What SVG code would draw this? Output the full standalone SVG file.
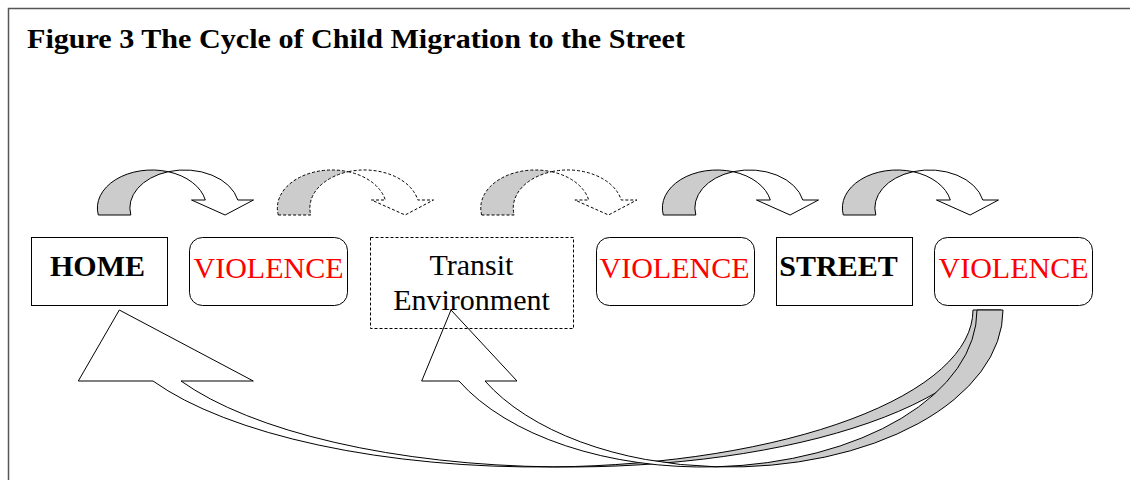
<svg xmlns="http://www.w3.org/2000/svg" xmlns:xlink="http://www.w3.org/1999/xlink" width="1130" height="480" viewBox="0 0 1130 480">
<style>
  .frame{fill:#ffffff;stroke:#555555;stroke-width:1.5}
  .box{fill:none;stroke:#000000;stroke-width:1}
  .dbox{fill:none;stroke:#000000;stroke-width:1;stroke-dasharray:3,2}
  .lbl{font-family:"Liberation Serif","Times New Roman",serif;font-size:30px;text-anchor:middle}
  .bold{font-weight:bold;fill:#000000}
  .red{fill:#ff0000}
  .blk{fill:#000000}
  .arr{stroke:#000000;stroke-width:1;stroke-linejoin:miter}
  .dash{stroke-dasharray:3,2}
  .shade{fill:#cccccc}
  .front{fill:#ffffff}
  .title{font-family:"Liberation Serif","Times New Roman",serif;font-size:27px;font-weight:bold;fill:#000000}
</style>
<defs>
  <g id="curvedDown">
    <path class="shade" d="M0,0 A54.6,38 0 0 1 69.85,-43.3 A54.6,38 0 0 0 32.5,0 Z"/>
    <path class="front" d="M69.85,-43.3 A54.6,38 0 0 1 107,-15 L93.2,-15 L126.8,0 L155.2,-15 L139.5,-15 A54.6,38 0 0 0 69.85,-43.3 Z"/>
  </g>
</defs>
<rect class="frame" x="8.5" y="8.5" width="1140" height="490"/>
<text class="title" x="27" y="48" textLength="658" lengthAdjust="spacingAndGlyphs">Figure 3 The Cycle of Child Migration to the Street</text>
<g id="connectors">
  <use xlink:href="#curvedDown" href="#curvedDown" class="arr" transform="translate(98.3,215)"/>
  <use xlink:href="#curvedDown" href="#curvedDown" class="arr dash" transform="translate(278.3,215)"/>
  <use xlink:href="#curvedDown" href="#curvedDown" class="arr dash" transform="translate(481.7,215)"/>
  <use xlink:href="#curvedDown" href="#curvedDown" class="arr" transform="translate(663.3,215)"/>
  <use xlink:href="#curvedDown" href="#curvedDown" class="arr" transform="translate(843.3,215)"/>
  <g id="return-home" class="arr">
    <path class="shade" d="M973,310 L1001,310 A433.4,157 0 0 1 553.6,466.92 A433.4,157 0 0 0 973,310 Z"/>
    <path class="front" d="M553.6,466.92 A433.4,157 0 0 1 181,381 L253.3,381 L119.3,310 L78.3,381 L153,381 A433.4,157 0 0 0 553.6,466.92 Z"/>
  </g>
  <g id="return-transit" class="arr">
    <path class="shade" d="M977,310 L1003,310 A273.8,157 0 0 1 716.2,466.82 A273.8,157 0 0 0 977,310 Z"/>
    <path class="front" d="M716.2,466.82 A273.8,157 0 0 1 485,381 L517,381 L451,310 L421.7,381 L459,381 A273.8,157 0 0 0 716.2,466.82 Z"/>
  </g>
</g>
<g id="home">
  <rect class="box" x="31.5" y="237.5" width="136" height="68"/>
  <text class="lbl bold" x="97.5" y="275.5">HOME</text>
</g>
<g id="violence1">
  <rect class="box" x="189.5" y="237.5" width="158" height="68" rx="13"/>
  <text class="lbl red" x="268.5" y="277.5">VIOLENCE</text>
</g>
<g id="transit">
  <rect class="dbox" x="370.5" y="237.5" width="203" height="91"/>
  <text class="lbl blk" x="471.5" y="275">Transit</text>
  <text class="lbl blk" x="471.5" y="310">Environment</text>
</g>
<g id="violence2">
  <rect class="box" x="596.5" y="237.5" width="158" height="68" rx="13"/>
  <text class="lbl red" x="674.5" y="277.5">VIOLENCE</text>
</g>
<g id="street">
  <rect class="box" x="776.5" y="237.5" width="136" height="68"/>
  <text class="lbl bold" x="838.5" y="275.5">STREET</text>
</g>
<g id="violence3">
  <rect class="box" x="934.5" y="237.5" width="158" height="68" rx="13"/>
  <text class="lbl red" x="1013.5" y="277.5">VIOLENCE</text>
</g>
</svg>
